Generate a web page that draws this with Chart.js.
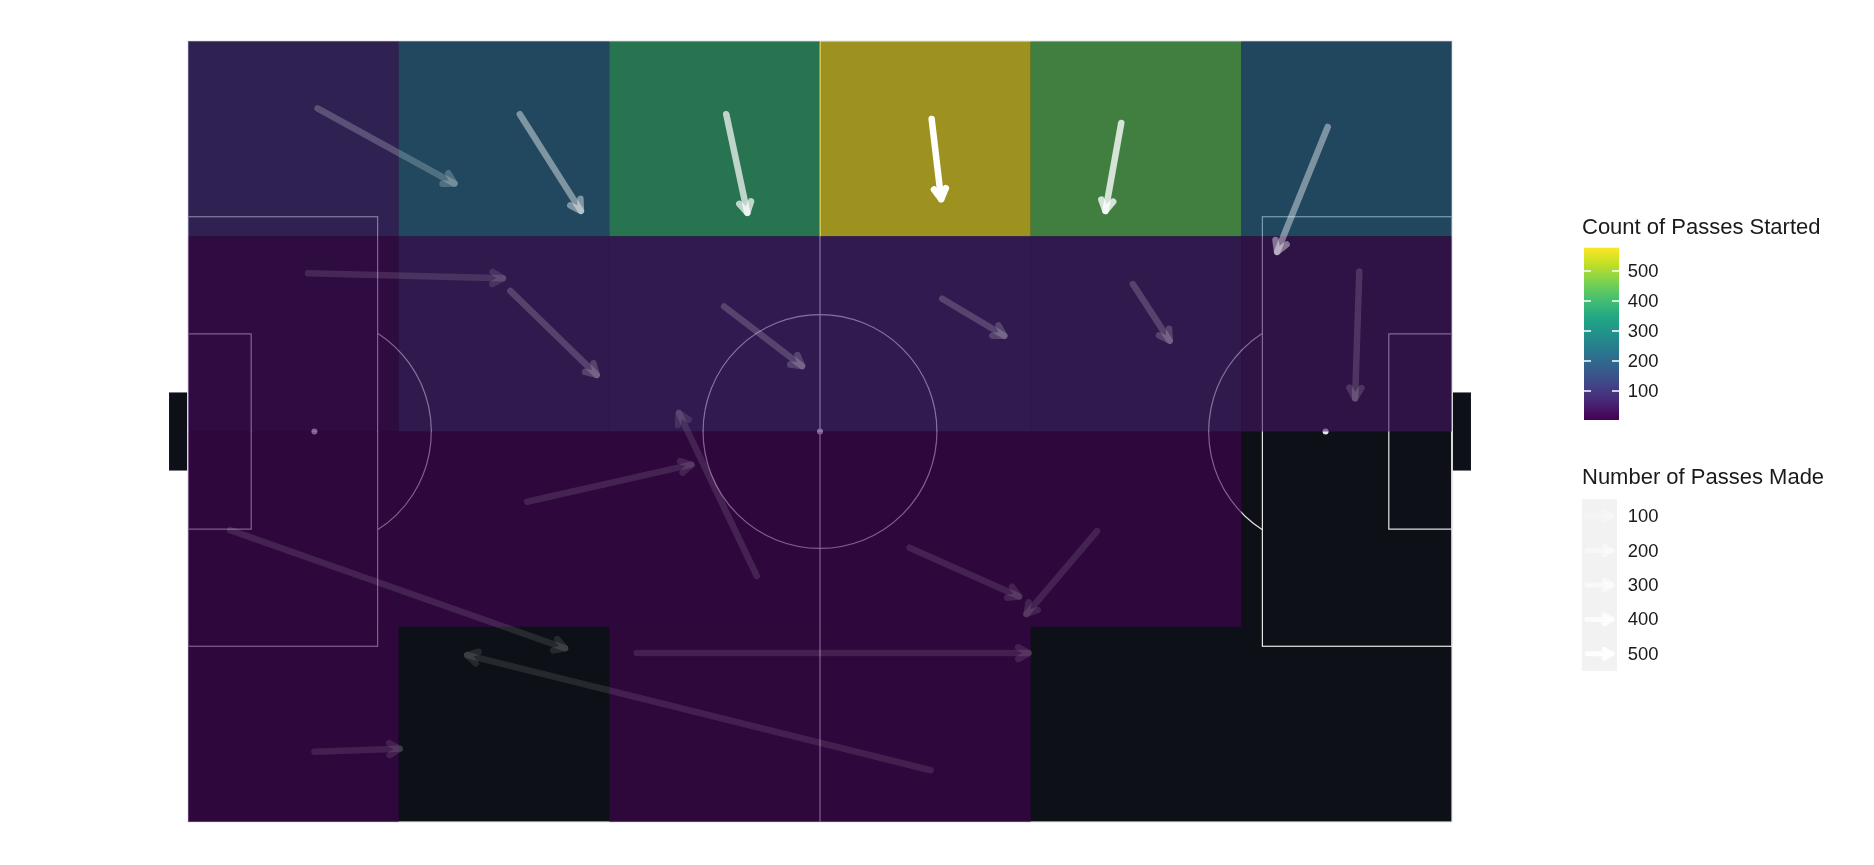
<!DOCTYPE html>
<html>
<head>
<meta charset="utf-8">
<script src="https://cdn.jsdelivr.net/npm/chart.js@4.4.1/dist/chart.umd.min.js"></script>
<style>
  body { margin: 0; background: #ffffff; }
  #wrap { position: relative; width: 1874px; height: 865px; }
  #pitch { position: absolute; left: 0; top: 0; }
  .lg { position: absolute; font-family: "Liberation Sans", Arial, sans-serif; color: #1a1a1a; white-space: nowrap; line-height: 1; }
  .lg.title { font-size: 22px; }
  .lg.lab { font-size: 18.4px; }
</style>
</head>
<body>
<div id="wrap">
  <canvas id="pitch" width="1874" height="865"></canvas>
</div>
<script>
// zone grid (StatsBomb 120 x 80 pitch, y measured from the top touchline)
const X_BINS = [0, 20, 40, 60, 80, 100, 120];
const Y_BINS = [0, 20, 40, 60, 80];

// passes started in each zone, top row first (null = no passes)
const ZONE_ROW_1 = [78, 210, 388, 578, 440, 205];
const ZONE_ROW_2 = [15, 55, 58, 58, 55, 35];
const ZONE_ROW_3 = [6, 6, 6, 6, 6, null];
const ZONE_ROW_4 = [4, null, 3, 5, null, null];
const ZONES = [ZONE_ROW_1, ZONE_ROW_2, ZONE_ROW_3, ZONE_ROW_4];

// average pass per zone: start -> end
const PASS_FROM_X = [12.3, 31.5, 51.1, 70.6, 88.6, 108.2, 11.4, 30.6, 50.9, 71.6, 89.7, 111.2, 4.0, 32.2, 54.0, 68.5, 86.3, 12.0, 42.6, 70.5];
const PASS_FROM_Y = [6.9, 7.5, 7.5, 8.0, 8.4, 8.8, 23.8, 25.6, 27.2, 26.4, 24.9, 23.6, 50.1, 47.2, 54.8, 51.9, 50.2, 72.8, 62.7, 74.7];
const PASS_TO_X = [25.3, 37.3, 53.1, 71.5, 87.1, 103.4, 29.9, 38.8, 58.3, 77.5, 93.2, 110.8, 35.8, 47.8, 46.6, 78.9, 79.6, 20.1, 79.8, 26.5];
const PASS_TO_Y = [14.6, 17.4, 17.6, 16.2, 17.4, 21.6, 24.3, 34.2, 33.3, 30.2, 30.7, 36.6, 62.2, 43.4, 38.1, 56.9, 58.7, 72.5, 62.7, 62.9];
const PASS_MADE = [78, 210, 388, 578, 440, 205, 15, 55, 58, 58, 55, 35, 6, 6, 6, 6, 6, 4, 3, 5];

const LEGEND_BREAKS = [100, 200, 300, 400, 500];

const VIRIDIS = ["#440154", "#482475", "#414487", "#355f8d", "#2a788e", "#21918c",
                 "#22a884", "#44bf70", "#7ad151", "#bddf26", "#fde725"];
const PITCH_BG = "#0d1117";
const LINE_COL = "#e6e6e6";
const TILE_ALPHA = 0.6;

const allZone = ZONES.flat().filter(v => v !== null);
const FILL_MIN = Math.min(...allZone), FILL_MAX = Math.max(...allZone);
const PASS_MIN = Math.min(...PASS_MADE), PASS_MAX = Math.max(...PASS_MADE);

function hexRgb(h) {
  return [1, 3, 5].map(i => parseInt(h.slice(i, i + 2), 16));
}
function viridis(t) {
  t = Math.max(0, Math.min(1, t));
  const pos = t * (VIRIDIS.length - 1);
  const i = Math.min(Math.floor(pos), VIRIDIS.length - 2);
  const f = pos - i;
  const a = hexRgb(VIRIDIS[i]), b = hexRgb(VIRIDIS[i + 1]);
  return a.map((v, k) => Math.round(v + (b[k] - v) * f));
}
function fillColour(v, alpha) {
  const c = viridis((v - FILL_MIN) / (FILL_MAX - FILL_MIN));
  return `rgba(${c[0]},${c[1]},${c[2]},${alpha})`;
}
function passAlpha(n) {
  return 0.1 + 0.9 * (n - PASS_MIN) / (PASS_MAX - PASS_MIN);
}

// shaft and head are stroked separately, like ggplot, so the head reads a bit brighter
function drawArrow(ctx, x0, y0, x1, y1, width, head, colour) {
  const ang = Math.atan2(y1 - y0, x1 - x0);
  const spread = Math.PI / 6;
  ctx.save();
  ctx.strokeStyle = colour;
  ctx.lineWidth = width;
  ctx.lineCap = "round";
  ctx.lineJoin = "round";
  ctx.beginPath();
  ctx.moveTo(x0, y0);
  ctx.lineTo(x1, y1);
  ctx.stroke();
  ctx.beginPath();
  ctx.moveTo(x1 - head * Math.cos(ang - spread), y1 - head * Math.sin(ang - spread));
  ctx.lineTo(x1, y1);
  ctx.lineTo(x1 - head * Math.cos(ang + spread), y1 - head * Math.sin(ang + spread));
  ctx.stroke();
  ctx.restore();
}

const LEGEND = { x: 1584, cbTop: 247.7, cbBottom: 420, cbW: 35, keyTop: 499, keyH: 34.4, labelX: 1627.7, titleX: 1582 };
function cbY(v) {
  return LEGEND.cbBottom - (v - FILL_MIN) / (FILL_MAX - FILL_MIN) * (LEGEND.cbBottom - LEGEND.cbTop);
}

// pitch markings + heat tiles, underneath the pass arrows
const pitchPlugin = {
  id: "pitch",
  beforeDatasetsDraw(chart) {
    const ctx = chart.ctx, xs = chart.scales.x, ys = chart.scales.y;
    const px = v => xs.getPixelForValue(v), py = v => ys.getPixelForValue(v);
    ctx.save();
    ctx.fillStyle = PITCH_BG;
    ctx.fillRect(px(0), py(0), px(120) - px(0), py(80) - py(0));
    // goals
    ctx.fillRect(px(-1.8), py(36), px(0) - px(-1.8), py(44) - py(36));
    ctx.fillRect(px(120), py(36), px(121.8) - px(120), py(44) - py(36));

    ctx.strokeStyle = LINE_COL;
    ctx.fillStyle = LINE_COL;
    ctx.lineWidth = 1.2;
    const box = (x0, y0, x1, y1) => ctx.strokeRect(px(x0), py(y0), px(x1) - px(x0), py(y1) - py(y0));
    box(0, 0, 120, 80);
    box(0, 18, 18, 62);
    box(102, 18, 120, 62);
    box(0, 30, 6, 50);
    box(114, 30, 120, 50);
    ctx.beginPath();
    ctx.moveTo(px(60), py(0));
    ctx.lineTo(px(60), py(80));
    ctx.stroke();
    const r = px(11.1) - px(0);
    ctx.beginPath();
    ctx.arc(px(60), py(40), r, 0, Math.PI * 2);
    ctx.stroke();
    const a = Math.acos((px(18) - px(12)) / r);
    ctx.beginPath();
    ctx.arc(px(12), py(40), r, -a, a);
    ctx.stroke();
    ctx.beginPath();
    ctx.arc(px(108), py(40), r, Math.PI - a, Math.PI + a);
    ctx.stroke();
    [[12, 40], [60, 40], [108, 40]].forEach(([x, y]) => {
      ctx.beginPath();
      ctx.arc(px(x), py(y), 3, 0, Math.PI * 2);
      ctx.fill();
    });

    ZONES.forEach((row, ri) => {
      row.forEach((v, ci) => {
        if (v === null) return;
        ctx.fillStyle = fillColour(v, TILE_ALPHA);
        const x0 = px(X_BINS[ci]), x1 = px(X_BINS[ci + 1]);
        const y0 = py(Y_BINS[ri]), y1 = py(Y_BINS[ri + 1]);
        ctx.fillRect(x0, y0, x1 - x0, y1 - y0);
      });
    });
    ctx.restore();
  },
  // each pass dataset is drawn as one arrow from its two parsed points
  beforeDatasetDraw(chart, args) {
    const pts = args.meta.data;
    if (pts.length < 2) return;
    const ds = chart.data.datasets[args.index];
    drawArrow(chart.ctx, pts[0].x, pts[0].y, pts[1].x, pts[1].y, ds.borderWidth, 12, ds.borderColor);
    return false;
  },
  afterDraw(chart) {
    const ctx = chart.ctx;
    const L = LEGEND;
    ctx.save();
    // colour bar
    const g = ctx.createLinearGradient(0, L.cbBottom, 0, L.cbTop);
    VIRIDIS.forEach((c, i) => g.addColorStop(i / (VIRIDIS.length - 1), c));
    ctx.fillStyle = g;
    ctx.fillRect(L.x, L.cbTop, L.cbW, L.cbBottom - L.cbTop);
    ctx.strokeStyle = "#ffffff";
    ctx.lineWidth = 1.5;
    LEGEND_BREAKS.forEach(b => {
      const y = cbY(b);
      ctx.beginPath();
      ctx.moveTo(L.x, y); ctx.lineTo(L.x + 7, y);
      ctx.moveTo(L.x + L.cbW - 7, y); ctx.lineTo(L.x + L.cbW, y);
      ctx.stroke();
    });
    // arrow keys
    ctx.fillStyle = "#f2f2f2";
    ctx.fillRect(L.x - 2, L.keyTop, L.cbW, L.keyH * LEGEND_BREAKS.length);
    LEGEND_BREAKS.forEach((b, i) => {
      const y = L.keyTop + L.keyH * (i + 0.5);
      drawArrow(ctx, L.x + 3, y, L.x + L.cbW - 7, y, 5, 9, `rgba(255,255,255,${passAlpha(b)})`);
    });
    ctx.restore();
  }
};

const passSets = PASS_MADE.map((n, i) => ({
  label: "zone " + (i + 1),
  data: [{ x: PASS_FROM_X[i], y: PASS_FROM_Y[i] }, { x: PASS_TO_X[i], y: PASS_TO_Y[i] }],
  borderColor: `rgba(255,255,255,${passAlpha(n).toFixed(3)})`,
  borderWidth: 6.5,
  pointRadius: 0,
  clip: false
}));

new Chart(document.getElementById("pitch"), {
  type: "line",
  data: { datasets: passSets },
  options: {
    responsive: false,
    animation: false,
    layout: { padding: { left: 188, right: 422, top: 41, bottom: 43 } },
    scales: {
      x: { type: "linear", min: 0, max: 120, display: false },
      y: { type: "linear", min: 0, max: 80, reverse: true, display: false }
    },
    plugins: { legend: { display: false }, tooltip: { enabled: false } }
  },
  plugins: [pitchPlugin]
});

// legend text
const wrap = document.getElementById("wrap");
function addText(txt, cls, left, top) {
  const d = document.createElement("div");
  d.className = "lg " + cls;
  d.textContent = txt;
  d.style.left = left + "px";
  d.style.top = top + "px";
  wrap.appendChild(d);
}
addText("Count of Passes Started", "title", LEGEND.titleX, 216.4);
LEGEND_BREAKS.forEach(b => addText(String(b), "lab", LEGEND.labelX, cbY(b) - 9));
addText("Number of Passes Made", "title", LEGEND.titleX, 466.4);
LEGEND_BREAKS.forEach((b, i) => addText(String(b), "lab", LEGEND.labelX, LEGEND.keyTop + LEGEND.keyH * (i + 0.5) - 9));
</script>
</body>
</html>
